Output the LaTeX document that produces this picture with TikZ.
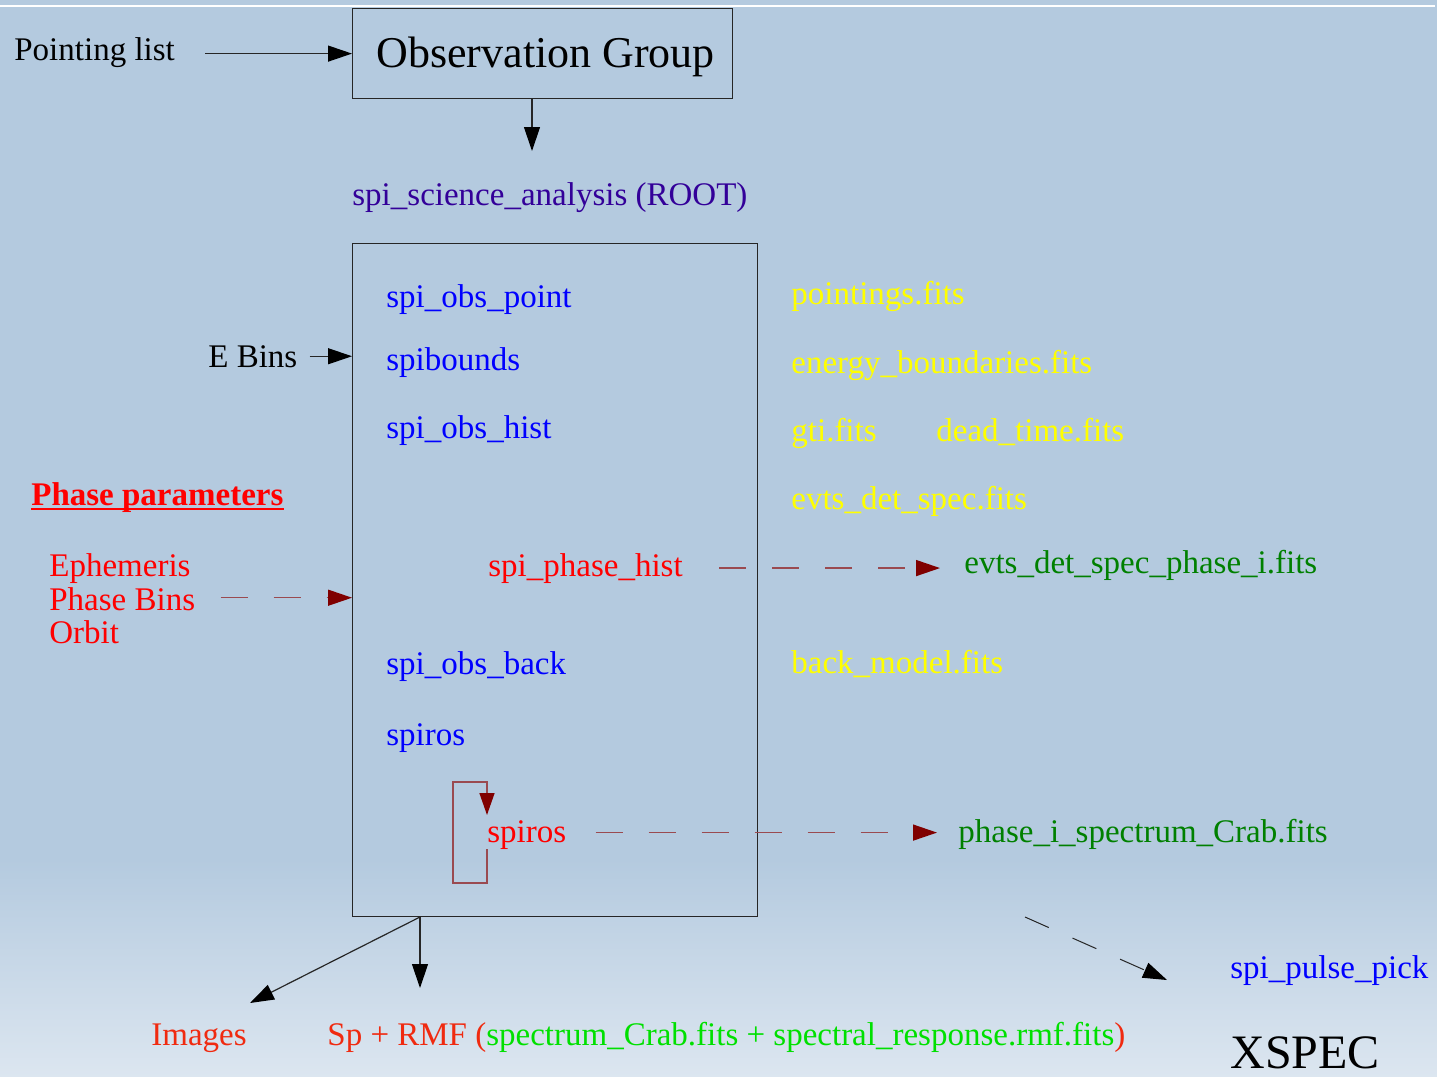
\documentclass[tikz,border=0pt]{standalone}
\usepackage{fontspec}
\setmainfont{Liberation Serif}
\usetikzlibrary{arrows.meta,calc}
\definecolor{bg}{HTML}{B4CADF}
\definecolor{bgb}{HTML}{DCE6F0}
\definecolor{dred}{HTML}{800000}
\definecolor{dredl}{HTML}{9A4A50}
\definecolor{indigo}{HTML}{330099}
\definecolor{tblue}{HTML}{0000FF}
\definecolor{tred}{HTML}{FF0000}
\definecolor{tyellow}{HTML}{FFFF00}
\definecolor{tgreen}{HTML}{008000}
\definecolor{lgreen}{HTML}{00E000}
\definecolor{ored}{HTML}{F02A10}
\begin{document}
\begin{tikzpicture}[x=0.5pt,y=-0.5pt,
  txt/.style={inner sep=0pt, anchor=base west, font=\fontsize{16.5}{17}\selectfont},
  arr/.style={draw=black!85, line width=0.6pt, -{Triangle[length=12pt,width=8pt,color=black]}},
  darr/.style={draw=dredl, line width=0.75pt, dash pattern=on 13.5pt off 13pt, -{Triangle[length=12pt,width=8pt,color=dred]}},
  boxline/.style={draw=black!85, line width=0.6pt, inner sep=0pt}
]
% background
\useasboundingbox (0,0) rectangle (1437,1077);
\fill[bg] (0,0) rectangle (1437,860);
\shade[top color=bg, bottom color=bgb] (0,859) rectangle (1437,1077);
\draw[white, line width=1pt] (0,6) -- (1435,6);

% top
\node[txt] (pl) at (14,60) {Pointing list};
\node[boxline, minimum width=190pt, minimum height=45pt, anchor=north west] (og) at (352,8) {};
\node[inner sep=0pt, anchor=base west, font=\fontsize{22}{24}\selectfont] (ogt) at (376,67) {Observation Group};
\draw[arr] ([xshift=15pt]pl.east |- og.west) -- (og.west);
\node[txt, text=indigo] (ssa) at (352,205) {spi\_science\_analysis (ROOT)};
\coordinate (ogtip) at (532,151);
\draw[arr] (og.south -| ogtip) -- (ogtip);

% main box
\node[boxline, minimum width=202.5pt, minimum height=336.5pt, anchor=north west] (mb) at (352,243) {};

\node[txt, text=tblue] (sop) at (386,307) {spi\_obs\_point};
\node[txt, text=tblue] (sbd) at (386,370) {spibounds};
\node[txt, text=tblue] (soh) at (386,438) {spi\_obs\_hist};
\node[txt, text=tred] (psh) at (488,576) {spi\_phase\_hist};
\node[txt, text=tblue] (sob) at (386,674) {spi\_obs\_back};
\node[txt, text=tblue] (spr) at (386,745) {spiros};
\node[txt, text=tred] (sp2) at (487,842) {spiros};

% yellow outputs
\node[txt, text=tyellow] (y1) at (791,304) {pointings.fits};
\node[txt, text=tyellow] (y2) at (791,373) {energy\_boundaries.fits};
\node[txt, text=tyellow] (y3) at (791,441) {gti.fits};
\node[txt, text=tyellow] (y4) at (936,441) {dead\_time.fits};
\node[txt, text=tyellow] (y5) at (791,509) {evts\_det\_spec.fits};
\node[txt, text=tyellow] (y6) at (791,673) {back\_model.fits};

% E bins
\node[txt] (eb) at (208,367) {E Bins};
\draw[arr] ([xshift=6pt]eb.east) -- (eb.east -| mb.west);

% phase parameters
\node[txt, text=tred, font=\fontsize{16.5}{17}\selectfont\bfseries] (pp) at (31,505) {Phase parameters};
\draw[tred, line width=0.8pt] ([yshift=-2pt]pp.base west) -- ([yshift=-2pt]pp.base east);
\node[txt, text=tred] (eph) at (49,576) {Ephemeris};
\node[txt, text=tred] (pbn) at (49,610) {Phase Bins};
\node[txt, text=tred] (orb) at (49,643) {Orbit};
\draw[darr] ([xshift=12.5pt,yshift=0.5pt]pbn.east) -- ([yshift=0.5pt]pbn.east -| mb.west);

% phase hist output
\node[txt, text=tgreen] (edsp) at (964,573) {evts\_det\_spec\_phase\_i.fits};
\draw[darr] ([xshift=18pt]psh.east) -- ([xshift=-12pt]psh.east -| edsp.west);

% spiros output
\node[txt, text=tgreen] (pisc) at (958,842) {phase\_i\_spectrum\_Crab.fits};
\draw[darr] ([xshift=14.5pt,yshift=1pt]sp2.east) -- ([xshift=-10.5pt,yshift=1pt]sp2.east -| pisc.west);

% spiros loop
\draw[draw=dredl, line width=0.7pt, -{Triangle[length=11pt,width=7.5pt,color=dred]}]
  ($(sp2.base west)+(0,7)$) -- ($(sp2.base west)+(0,41)$) -- ($(sp2.base west)+(-34,41)$)
  -- ($(sp2.base west)+(-34,-60)$) -- ($(sp2.base west)+(0,-60)$) -- ($(sp2.base west)+(0,-27)$);

% bottom
\coordinate (bs) at (420,917);
\coordinate (imtip) at (250,1003);
\coordinate (sptip) at (420,988);
\draw[arr] (bs) -- (imtip);
\draw[arr] (bs) -- (sptip);
\node[txt, text=ored] (img) at (151,1045) {Images};
\node[txt, text=ored] (sprmf) at (327,1045) {Sp + RMF (\textcolor{lgreen}{spectrum\_Crab.fits + spectral\_response.rmf.fits})};

\coordinate (pps) at (1025,917);
\coordinate (ppt) at (1167,980);
\draw[draw=black!85, line width=0.5pt, dash pattern=on 13pt off 13pt, -{Triangle[length=12pt,width=8pt,color=black]}] (pps) -- (ppt);
\node[txt, text=tblue] (spp) at (1230,978) {spi\_pulse\_pick};
\node[inner sep=0pt, anchor=base west, font=\fontsize{24}{26}\selectfont] (xs) at (1230,1068) {XSPEC};
\end{tikzpicture}
\end{document}
